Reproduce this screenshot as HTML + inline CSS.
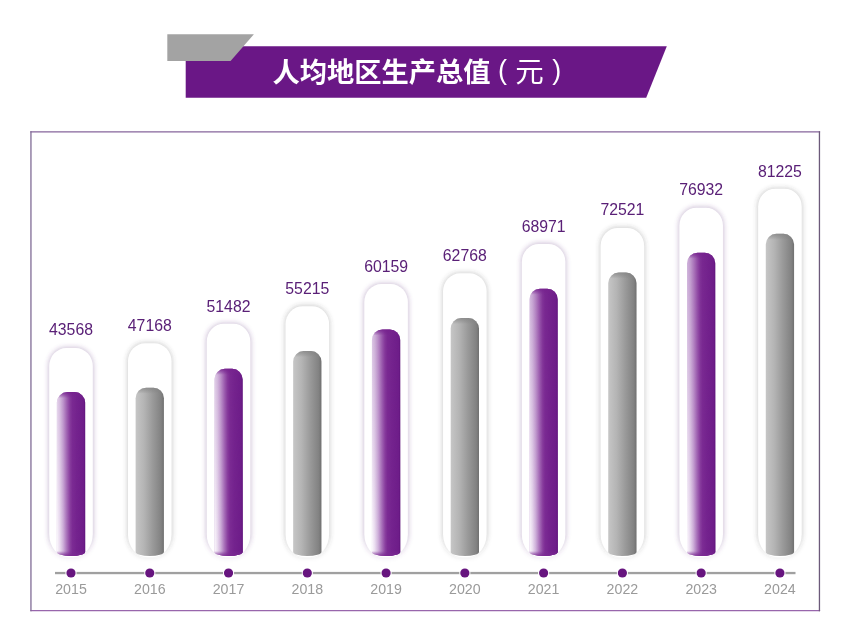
<!DOCTYPE html>
<html lang="zh"><head><meta charset="utf-8"><title>人均地区生产总值</title>
<style>
html,body{margin:0;padding:0;background:#fff;}
body{width:850px;height:640px;position:relative;overflow:hidden;font-family:"Liberation Sans","Noto Sans CJK SC",sans-serif;}
.abs{position:absolute;}
.val{position:absolute;width:80px;text-align:center;font-size:15.8px;line-height:20px;color:#5a2077;}
.yr{position:absolute;width:60px;text-align:center;font-size:14.2px;line-height:18px;color:#9a9a9a;}
.title{position:absolute;color:#fff;white-space:nowrap;line-height:30px;}
</style></head><body>
<svg class="abs" style="left:0;top:0" width="850" height="640" viewBox="0 0 850 640">
<defs>
<linearGradient id="gp" x1="0" y1="0" x2="1" y2="0">
<stop offset="0" stop-color="#caabd7"/><stop offset=".12" stop-color="#bb92c9"/><stop offset=".26" stop-color="#a267b3"/><stop offset=".38" stop-color="#8b42a0"/><stop offset=".46" stop-color="#7e2f95"/><stop offset=".55" stop-color="#782790"/><stop offset=".94" stop-color="#6e1d89"/><stop offset="1" stop-color="#61157d"/>
</linearGradient>
<linearGradient id="gg" x1="0" y1="0" x2="1" y2="0">
<stop offset="0" stop-color="#c6c6c6"/><stop offset=".3" stop-color="#b4b4b4"/><stop offset=".6" stop-color="#9a9a9a"/><stop offset=".9" stop-color="#828282"/><stop offset="1" stop-color="#707070"/>
</linearGradient>
<linearGradient id="tp" gradientUnits="userSpaceOnUse" x1="0" y1="0" x2="0" y2="6">
<stop offset="0" stop-color="#76228e" stop-opacity=".9"/><stop offset="1" stop-color="#76228e" stop-opacity="0"/>
</linearGradient>
<linearGradient id="tg" gradientUnits="userSpaceOnUse" x1="0" y1="0" x2="0" y2="6">
<stop offset="0" stop-color="#858585" stop-opacity=".75"/><stop offset="1" stop-color="#808080" stop-opacity="0"/>
</linearGradient>
<linearGradient id="gpb" x1="0" y1="0" x2="1" y2="0">
<stop offset="0" stop-color="#fdfbfe"/><stop offset=".1" stop-color="#ece0f1"/><stop offset=".22" stop-color="#d0b3db"/><stop offset=".35" stop-color="#aa74bb"/><stop offset=".47" stop-color="#8a409f"/><stop offset=".55" stop-color="#7c2c94"/><stop offset=".7" stop-color="#74238e"/><stop offset=".94" stop-color="#6e1d89"/><stop offset="1" stop-color="#61157d"/>
</linearGradient>
<linearGradient id="vm" gradientUnits="userSpaceOnUse" x1="0" y1="225" x2="0" y2="556"><stop offset="0" stop-color="#000"/><stop offset="1" stop-color="#fff"/></linearGradient>
<mask id="mk" maskUnits="userSpaceOnUse" x="0" y="0" width="850" height="640"><rect x="0" y="0" width="850" height="640" fill="url(#vm)"/></mask>
<linearGradient id="bp" gradientUnits="userSpaceOnUse" x1="0" y1="0" x2="0" y2="-5">
<stop offset="0" stop-color="#7a2892" stop-opacity=".9"/><stop offset="1" stop-color="#7a2892" stop-opacity="0"/>
</linearGradient>
<linearGradient id="glp" gradientUnits="userSpaceOnUse" x1="0" y1="536" x2="0" y2="560"><stop offset="0" stop-color="rgb(100,60,130)" stop-opacity=".27"/><stop offset="1" stop-color="rgb(100,60,130)" stop-opacity=".06"/></linearGradient>
<linearGradient id="glg" gradientUnits="userSpaceOnUse" x1="0" y1="536" x2="0" y2="560"><stop offset="0" stop-color="rgb(70,70,70)" stop-opacity=".22"/><stop offset="1" stop-color="rgb(70,70,70)" stop-opacity=".05"/></linearGradient>
<filter id="fp" x="-30%" y="-10%" width="160%" height="120%"><feGaussianBlur stdDeviation="1.9"/></filter>
</defs>
<polygon points="185.7,46.2 666.8,46.2 646.2,97.7 185.7,97.7" fill="#6a1786"/>
<polygon points="167.3,34.2 253.9,34.2 230.6,61 167.3,61" fill="#a3a3a3"/>
<g stroke-width="1.3" stroke-linecap="square" fill="none">
<path d="M30.95,131.85 H819.45" stroke="#86649b"/>
<path d="M30.95,610.6 H819.45" stroke="#9866ac"/>
<path d="M30.95,131.85 V610.6" stroke="#806c96"/>
<path d="M819.45,131.85 V610.6" stroke="#6c5a7a"/>
</g>
<rect x="55" y="571.9" width="740.5" height="2.3" fill="#a0a0a0"/>

<path d="M47.90,366.05 a18.3,19.3 0 0 1 18.3,-19.3 h9.60 a18.3,19.3 0 0 1 18.3,19.3 v168.25 a20.3,24.3 0 0 1 -20.3,24.3 h-5.60 a20.3,24.3 0 0 1 -20.3,-24.3 z" fill="url(#glp)" filter="url(#fp)"/>
<path d="M49.20,366.05 a17,18 0 0 1 17,-18 h9.60 a17,18 0 0 1 17,18 v168.25 a19,23 0 0 1 -19,23 h-5.60 a19,23 0 0 1 -19,-23 z" fill="#fff"/>
<path d="M56.85,402.60 a10.5,10.5 0 0 1 10.5,-10.5 h7.30 a10.5,10.5 0 0 1 10.5,10.5 v149.40 a14,4 0 0 1 -14,4 h-0.30 a14,4 0 0 1 -14,-4 z" fill="url(#gp)"/>
<path d="M56.85,402.60 a10.5,10.5 0 0 1 10.5,-10.5 h7.30 a10.5,10.5 0 0 1 10.5,10.5 v149.40 a14,4 0 0 1 -14,4 h-0.30 a14,4 0 0 1 -14,-4 z" fill="url(#gpb)" mask="url(#mk)"/>
<g transform="translate(0,556.00)"><path d="M56.85,-11.00 a1,1 0 0 1 1,-1 h26.30 a1,1 0 0 1 1,1 v7.00 a14,4 0 0 1 -14,4 h-0.30 a14,4 0 0 1 -14,-4 z" fill="url(#bp)"/></g>
<g transform="translate(0,392.10)"><path d="M56.85,10.50 a10.5,10.5 0 0 1 10.5,-10.5 h7.30 a10.5,10.5 0 0 1 10.5,10.5 v5.50 a14,4 0 0 1 -14,4 h-0.30 a14,4 0 0 1 -14,-4 z" fill="url(#tp)"/></g>
<circle cx="71.00" cy="573" r="5.6" fill="#fff"/><circle cx="71.00" cy="573" r="4.6" fill="#67157f"/>
<path d="M126.67,361.35 a18.3,19.3 0 0 1 18.3,-19.3 h9.60 a18.3,19.3 0 0 1 18.3,19.3 v172.95 a20.3,24.3 0 0 1 -20.3,24.3 h-5.60 a20.3,24.3 0 0 1 -20.3,-24.3 z" fill="url(#glg)" filter="url(#fp)"/>
<path d="M127.97,361.35 a17,18 0 0 1 17,-18 h9.60 a17,18 0 0 1 17,18 v172.95 a19,23 0 0 1 -19,23 h-5.60 a19,23 0 0 1 -19,-23 z" fill="#fff"/>
<path d="M135.62,398.20 a10.5,10.5 0 0 1 10.5,-10.5 h7.30 a10.5,10.5 0 0 1 10.5,10.5 v153.80 a14,4 0 0 1 -14,4 h-0.30 a14,4 0 0 1 -14,-4 z" fill="url(#gg)"/>
<g transform="translate(0,387.70)"><path d="M135.62,10.50 a10.5,10.5 0 0 1 10.5,-10.5 h7.30 a10.5,10.5 0 0 1 10.5,10.5 v5.50 a14,4 0 0 1 -14,4 h-0.30 a14,4 0 0 1 -14,-4 z" fill="url(#tg)"/></g>
<circle cx="149.77" cy="573" r="5.6" fill="#fff"/><circle cx="149.77" cy="573" r="4.6" fill="#67157f"/>
<path d="M205.44,341.75 a18.3,19.3 0 0 1 18.3,-19.3 h9.60 a18.3,19.3 0 0 1 18.3,19.3 v192.55 a20.3,24.3 0 0 1 -20.3,24.3 h-5.60 a20.3,24.3 0 0 1 -20.3,-24.3 z" fill="url(#glp)" filter="url(#fp)"/>
<path d="M206.74,341.75 a17,18 0 0 1 17,-18 h9.60 a17,18 0 0 1 17,18 v192.55 a19,23 0 0 1 -19,23 h-5.60 a19,23 0 0 1 -19,-23 z" fill="#fff"/>
<path d="M214.39,379.35 a10.5,10.5 0 0 1 10.5,-10.5 h7.30 a10.5,10.5 0 0 1 10.5,10.5 v172.65 a14,4 0 0 1 -14,4 h-0.30 a14,4 0 0 1 -14,-4 z" fill="url(#gp)"/>
<path d="M214.39,379.35 a10.5,10.5 0 0 1 10.5,-10.5 h7.30 a10.5,10.5 0 0 1 10.5,10.5 v172.65 a14,4 0 0 1 -14,4 h-0.30 a14,4 0 0 1 -14,-4 z" fill="url(#gpb)" mask="url(#mk)"/>
<g transform="translate(0,556.00)"><path d="M214.39,-11.00 a1,1 0 0 1 1,-1 h26.30 a1,1 0 0 1 1,1 v7.00 a14,4 0 0 1 -14,4 h-0.30 a14,4 0 0 1 -14,-4 z" fill="url(#bp)"/></g>
<g transform="translate(0,368.85)"><path d="M214.39,10.50 a10.5,10.5 0 0 1 10.5,-10.5 h7.30 a10.5,10.5 0 0 1 10.5,10.5 v5.50 a14,4 0 0 1 -14,4 h-0.30 a14,4 0 0 1 -14,-4 z" fill="url(#tp)"/></g>
<circle cx="228.54" cy="573" r="5.6" fill="#fff"/><circle cx="228.54" cy="573" r="4.6" fill="#67157f"/>
<path d="M284.21,324.15 a18.3,19.3 0 0 1 18.3,-19.3 h9.60 a18.3,19.3 0 0 1 18.3,19.3 v210.15 a20.3,24.3 0 0 1 -20.3,24.3 h-5.60 a20.3,24.3 0 0 1 -20.3,-24.3 z" fill="url(#glg)" filter="url(#fp)"/>
<path d="M285.51,324.15 a17,18 0 0 1 17,-18 h9.60 a17,18 0 0 1 17,18 v210.15 a19,23 0 0 1 -19,23 h-5.60 a19,23 0 0 1 -19,-23 z" fill="#fff"/>
<path d="M293.16,361.55 a10.5,10.5 0 0 1 10.5,-10.5 h7.30 a10.5,10.5 0 0 1 10.5,10.5 v190.45 a14,4 0 0 1 -14,4 h-0.30 a14,4 0 0 1 -14,-4 z" fill="url(#gg)"/>
<g transform="translate(0,351.05)"><path d="M293.16,10.50 a10.5,10.5 0 0 1 10.5,-10.5 h7.30 a10.5,10.5 0 0 1 10.5,10.5 v5.50 a14,4 0 0 1 -14,4 h-0.30 a14,4 0 0 1 -14,-4 z" fill="url(#tg)"/></g>
<circle cx="307.31" cy="573" r="5.6" fill="#fff"/><circle cx="307.31" cy="573" r="4.6" fill="#67157f"/>
<path d="M362.98,302.05 a18.3,19.3 0 0 1 18.3,-19.3 h9.60 a18.3,19.3 0 0 1 18.3,19.3 v232.25 a20.3,24.3 0 0 1 -20.3,24.3 h-5.60 a20.3,24.3 0 0 1 -20.3,-24.3 z" fill="url(#glp)" filter="url(#fp)"/>
<path d="M364.28,302.05 a17,18 0 0 1 17,-18 h9.60 a17,18 0 0 1 17,18 v232.25 a19,23 0 0 1 -19,23 h-5.60 a19,23 0 0 1 -19,-23 z" fill="#fff"/>
<path d="M371.93,339.95 a10.5,10.5 0 0 1 10.5,-10.5 h7.30 a10.5,10.5 0 0 1 10.5,10.5 v212.05 a14,4 0 0 1 -14,4 h-0.30 a14,4 0 0 1 -14,-4 z" fill="url(#gp)"/>
<path d="M371.93,339.95 a10.5,10.5 0 0 1 10.5,-10.5 h7.30 a10.5,10.5 0 0 1 10.5,10.5 v212.05 a14,4 0 0 1 -14,4 h-0.30 a14,4 0 0 1 -14,-4 z" fill="url(#gpb)" mask="url(#mk)"/>
<g transform="translate(0,556.00)"><path d="M371.93,-11.00 a1,1 0 0 1 1,-1 h26.30 a1,1 0 0 1 1,1 v7.00 a14,4 0 0 1 -14,4 h-0.30 a14,4 0 0 1 -14,-4 z" fill="url(#bp)"/></g>
<g transform="translate(0,329.45)"><path d="M371.93,10.50 a10.5,10.5 0 0 1 10.5,-10.5 h7.30 a10.5,10.5 0 0 1 10.5,10.5 v5.50 a14,4 0 0 1 -14,4 h-0.30 a14,4 0 0 1 -14,-4 z" fill="url(#tp)"/></g>
<circle cx="386.08" cy="573" r="5.6" fill="#fff"/><circle cx="386.08" cy="573" r="4.6" fill="#67157f"/>
<path d="M441.75,291.35 a18.3,19.3 0 0 1 18.3,-19.3 h9.60 a18.3,19.3 0 0 1 18.3,19.3 v242.95 a20.3,24.3 0 0 1 -20.3,24.3 h-5.60 a20.3,24.3 0 0 1 -20.3,-24.3 z" fill="url(#glg)" filter="url(#fp)"/>
<path d="M443.05,291.35 a17,18 0 0 1 17,-18 h9.60 a17,18 0 0 1 17,18 v242.95 a19,23 0 0 1 -19,23 h-5.60 a19,23 0 0 1 -19,-23 z" fill="#fff"/>
<path d="M450.70,328.60 a10.5,10.5 0 0 1 10.5,-10.5 h7.30 a10.5,10.5 0 0 1 10.5,10.5 v223.40 a14,4 0 0 1 -14,4 h-0.30 a14,4 0 0 1 -14,-4 z" fill="url(#gg)"/>
<g transform="translate(0,318.10)"><path d="M450.70,10.50 a10.5,10.5 0 0 1 10.5,-10.5 h7.30 a10.5,10.5 0 0 1 10.5,10.5 v5.50 a14,4 0 0 1 -14,4 h-0.30 a14,4 0 0 1 -14,-4 z" fill="url(#tg)"/></g>
<circle cx="464.85" cy="573" r="5.6" fill="#fff"/><circle cx="464.85" cy="573" r="4.6" fill="#67157f"/>
<path d="M520.52,261.90 a18.3,19.3 0 0 1 18.3,-19.3 h9.60 a18.3,19.3 0 0 1 18.3,19.3 v272.40 a20.3,24.3 0 0 1 -20.3,24.3 h-5.60 a20.3,24.3 0 0 1 -20.3,-24.3 z" fill="url(#glp)" filter="url(#fp)"/>
<path d="M521.82,261.90 a17,18 0 0 1 17,-18 h9.60 a17,18 0 0 1 17,18 v272.40 a19,23 0 0 1 -19,23 h-5.60 a19,23 0 0 1 -19,-23 z" fill="#fff"/>
<path d="M529.47,299.20 a10.5,10.5 0 0 1 10.5,-10.5 h7.30 a10.5,10.5 0 0 1 10.5,10.5 v252.80 a14,4 0 0 1 -14,4 h-0.30 a14,4 0 0 1 -14,-4 z" fill="url(#gp)"/>
<path d="M529.47,299.20 a10.5,10.5 0 0 1 10.5,-10.5 h7.30 a10.5,10.5 0 0 1 10.5,10.5 v252.80 a14,4 0 0 1 -14,4 h-0.30 a14,4 0 0 1 -14,-4 z" fill="url(#gpb)" mask="url(#mk)"/>
<g transform="translate(0,556.00)"><path d="M529.47,-11.00 a1,1 0 0 1 1,-1 h26.30 a1,1 0 0 1 1,1 v7.00 a14,4 0 0 1 -14,4 h-0.30 a14,4 0 0 1 -14,-4 z" fill="url(#bp)"/></g>
<g transform="translate(0,288.70)"><path d="M529.47,10.50 a10.5,10.5 0 0 1 10.5,-10.5 h7.30 a10.5,10.5 0 0 1 10.5,10.5 v5.50 a14,4 0 0 1 -14,4 h-0.30 a14,4 0 0 1 -14,-4 z" fill="url(#tp)"/></g>
<circle cx="543.62" cy="573" r="5.6" fill="#fff"/><circle cx="543.62" cy="573" r="4.6" fill="#67157f"/>
<path d="M599.29,245.90 a18.3,19.3 0 0 1 18.3,-19.3 h9.60 a18.3,19.3 0 0 1 18.3,19.3 v288.40 a20.3,24.3 0 0 1 -20.3,24.3 h-5.60 a20.3,24.3 0 0 1 -20.3,-24.3 z" fill="url(#glg)" filter="url(#fp)"/>
<path d="M600.59,245.90 a17,18 0 0 1 17,-18 h9.60 a17,18 0 0 1 17,18 v288.40 a19,23 0 0 1 -19,23 h-5.60 a19,23 0 0 1 -19,-23 z" fill="#fff"/>
<path d="M608.24,283.10 a10.5,10.5 0 0 1 10.5,-10.5 h7.30 a10.5,10.5 0 0 1 10.5,10.5 v268.90 a14,4 0 0 1 -14,4 h-0.30 a14,4 0 0 1 -14,-4 z" fill="url(#gg)"/>
<g transform="translate(0,272.60)"><path d="M608.24,10.50 a10.5,10.5 0 0 1 10.5,-10.5 h7.30 a10.5,10.5 0 0 1 10.5,10.5 v5.50 a14,4 0 0 1 -14,4 h-0.30 a14,4 0 0 1 -14,-4 z" fill="url(#tg)"/></g>
<circle cx="622.39" cy="573" r="5.6" fill="#fff"/><circle cx="622.39" cy="573" r="4.6" fill="#67157f"/>
<path d="M678.06,225.65 a18.3,19.3 0 0 1 18.3,-19.3 h9.60 a18.3,19.3 0 0 1 18.3,19.3 v308.65 a20.3,24.3 0 0 1 -20.3,24.3 h-5.60 a20.3,24.3 0 0 1 -20.3,-24.3 z" fill="url(#glp)" filter="url(#fp)"/>
<path d="M679.36,225.65 a17,18 0 0 1 17,-18 h9.60 a17,18 0 0 1 17,18 v308.65 a19,23 0 0 1 -19,23 h-5.60 a19,23 0 0 1 -19,-23 z" fill="#fff"/>
<path d="M687.01,263.15 a10.5,10.5 0 0 1 10.5,-10.5 h7.30 a10.5,10.5 0 0 1 10.5,10.5 v288.85 a14,4 0 0 1 -14,4 h-0.30 a14,4 0 0 1 -14,-4 z" fill="url(#gp)"/>
<path d="M687.01,263.15 a10.5,10.5 0 0 1 10.5,-10.5 h7.30 a10.5,10.5 0 0 1 10.5,10.5 v288.85 a14,4 0 0 1 -14,4 h-0.30 a14,4 0 0 1 -14,-4 z" fill="url(#gpb)" mask="url(#mk)"/>
<g transform="translate(0,556.00)"><path d="M687.01,-11.00 a1,1 0 0 1 1,-1 h26.30 a1,1 0 0 1 1,1 v7.00 a14,4 0 0 1 -14,4 h-0.30 a14,4 0 0 1 -14,-4 z" fill="url(#bp)"/></g>
<g transform="translate(0,252.65)"><path d="M687.01,10.50 a10.5,10.5 0 0 1 10.5,-10.5 h7.30 a10.5,10.5 0 0 1 10.5,10.5 v5.50 a14,4 0 0 1 -14,4 h-0.30 a14,4 0 0 1 -14,-4 z" fill="url(#tp)"/></g>
<circle cx="701.16" cy="573" r="5.6" fill="#fff"/><circle cx="701.16" cy="573" r="4.6" fill="#67157f"/>
<path d="M756.83,206.75 a18.3,19.3 0 0 1 18.3,-19.3 h9.60 a18.3,19.3 0 0 1 18.3,19.3 v327.55 a20.3,24.3 0 0 1 -20.3,24.3 h-5.60 a20.3,24.3 0 0 1 -20.3,-24.3 z" fill="url(#glg)" filter="url(#fp)"/>
<path d="M758.13,206.75 a17,18 0 0 1 17,-18 h9.60 a17,18 0 0 1 17,18 v327.55 a19,23 0 0 1 -19,23 h-5.60 a19,23 0 0 1 -19,-23 z" fill="#fff"/>
<path d="M765.78,244.30 a10.5,10.5 0 0 1 10.5,-10.5 h7.30 a10.5,10.5 0 0 1 10.5,10.5 v307.70 a14,4 0 0 1 -14,4 h-0.30 a14,4 0 0 1 -14,-4 z" fill="url(#gg)"/>
<g transform="translate(0,233.80)"><path d="M765.78,10.50 a10.5,10.5 0 0 1 10.5,-10.5 h7.30 a10.5,10.5 0 0 1 10.5,10.5 v5.50 a14,4 0 0 1 -14,4 h-0.30 a14,4 0 0 1 -14,-4 z" fill="url(#tg)"/></g>
<circle cx="779.93" cy="573" r="5.6" fill="#fff"/><circle cx="779.93" cy="573" r="4.6" fill="#67157f"/>
</svg>
<div class="title" style="left:272.5px;top:58px;font-size:27.25px;font-weight:bold;">人均地区生产总值</div>
<div class="title" style="left:498px;top:54.7px;font-size:27px;">(</div>
<div class="title" style="left:515.3px;top:57px;font-size:28.5px;">元</div>
<div class="title" style="left:552.3px;top:54.7px;font-size:27px;">)</div>
<div class="val" style="left:31.0px;top:320.45px;">43568</div>
<div class="yr" style="left:41.0px;top:579.5px;">2015</div>
<div class="val" style="left:109.8px;top:315.75px;">47168</div>
<div class="yr" style="left:119.8px;top:579.5px;">2016</div>
<div class="val" style="left:188.5px;top:296.85px;">51482</div>
<div class="yr" style="left:198.5px;top:579.5px;">2017</div>
<div class="val" style="left:267.3px;top:278.85px;">55215</div>
<div class="yr" style="left:277.3px;top:579.5px;">2018</div>
<div class="val" style="left:346.1px;top:257.35px;">60159</div>
<div class="yr" style="left:356.1px;top:579.5px;">2019</div>
<div class="val" style="left:424.8px;top:245.95px;">62768</div>
<div class="yr" style="left:434.8px;top:579.5px;">2020</div>
<div class="val" style="left:503.6px;top:216.55px;">68971</div>
<div class="yr" style="left:513.6px;top:579.5px;">2021</div>
<div class="val" style="left:582.4px;top:200.35px;">72521</div>
<div class="yr" style="left:592.4px;top:579.5px;">2022</div>
<div class="val" style="left:661.2px;top:180.35px;">76932</div>
<div class="yr" style="left:671.2px;top:579.5px;">2023</div>
<div class="val" style="left:739.9px;top:161.55px;">81225</div>
<div class="yr" style="left:749.9px;top:579.5px;">2024</div>
</body></html>
